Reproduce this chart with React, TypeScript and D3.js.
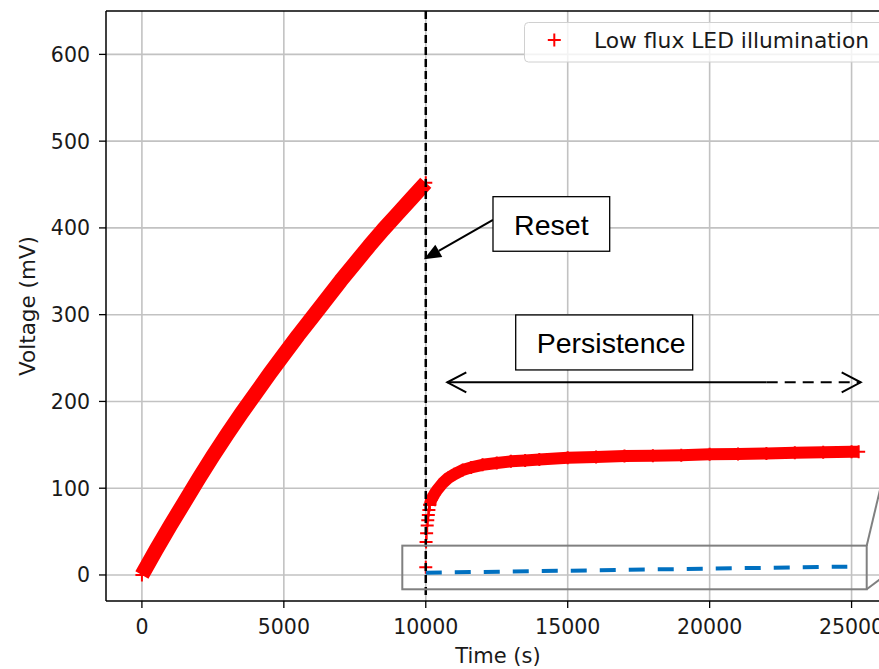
import * as d3 from "d3";

// Charging ramp before the reset (s, mV)
const rampTime = [0, 500, 1000, 1500, 2000, 2500, 3000, 3500, 4000, 4500, 5000, 5500, 6000, 6500, 7000, 7500, 8000, 8500, 9000, 9500, 10000];
const rampVolt = [0, 29, 57, 84, 111, 137, 162, 186, 209, 232, 254, 276, 297, 318, 339, 359, 379, 398, 416, 434, 452];

// Sparse points right after the reset
const resetTime = [10000, 10010, 10030, 10050, 10070, 10090, 10110, 10140];
const resetVolt = [9, 38, 48, 57, 63, 69, 75, 81];

// Persistence recovery
const recoveryTime = [10140, 10200, 10300, 10400, 10600, 10800, 11000, 11300, 11600, 12000, 12500, 13000, 13500, 14000, 15000, 16000, 17000, 18000, 19000, 20000, 21000, 22000, 23000, 24000, 25000, 25250];
const recoveryVolt = [81, 87, 93, 98, 106, 112, 116, 121, 124, 127, 129, 131, 132, 133, 135, 136, 137, 137.5, 138, 139, 139.5, 140, 141, 141.5, 142, 142];

// Dark reference (blue dashed)
const darkTime = [10000, 24850];
const darkVolt = [2.6, 9.6];

const xTicks = [0, 5000, 10000, 15000, 20000, 25000];
const yTicks = [0, 100, 200, 300, 400, 500, 600];

const W = 879;
const H = 669;
const FONT = "DejaVu Sans";
const ANNO_FONT = "Liberation Sans, Arial";

type Pt = [number, number];
const zip = (t: number[], v: number[]): Pt[] => t.map((d, i) => [d, v[i]]);

function Plus({ x, y }: { x: number; y: number }) {
  return <path d={`M${x - 6.5},${y}H${x + 6.5}M${x},${y - 6.5}V${y + 6.5}`} stroke="#ff0000" strokeWidth={2} fill="none" />;
}

export default function App() {
  const x = d3.scaleLinear().domain([-1265, 26565]).range([106, 896]);
  const y = d3.scaleLinear().domain([-30, 650]).range([601, 11]);
  const [left, right] = x.range();
  const [bottom, top] = y.range();

  const line = d3.line<Pt>().x((d) => x(d[0])).y((d) => y(d[1]));

  const ramp = zip(rampTime, rampVolt);
  const reset = zip(resetTime, resetVolt);
  const recovery = zip(recoveryTime, recoveryVolt);
  const dark = zip(darkTime, darkVolt);

  // annotation anchors in data units
  const resetBox = { t0: 12368, t1: 16479, v0: 436, v1: 373.1 };
  const resetArrow = { from: [12368, 409.2] as Pt, to: [9938, 363.9] as Pt };
  const persBox = { t0: 13168, t1: 19403, v0: 299.7, v1: 236.3 };
  const persArrow = { v: 222.1, t0: 10758, tSolid: 22010, t1: 25321 };
  const zoomBox = { t0: 9173, t1: 25533, v0: 33.8, v1: -16.5 };

  // reset arrow head
  const ax0 = x(resetArrow.from[0]), ay0 = y(resetArrow.from[1]);
  const ax1 = x(resetArrow.to[0]), ay1 = y(resetArrow.to[1]);
  const len = Math.hypot(ax1 - ax0, ay1 - ay0);
  const ux = (ax1 - ax0) / len, uy = (ay1 - ay0) / len;
  const bx = ax1 - ux * 17, by = ay1 - uy * 17;
  const head = `M${ax1},${ay1}L${bx - uy * 7},${by + ux * 7}L${bx + uy * 7},${by - ux * 7}Z`;

  const py = y(persArrow.v);
  const pl = x(persArrow.t0), ps = x(persArrow.tSolid), pr = x(persArrow.t1);

  const zx0 = x(zoomBox.t0), zx1 = x(zoomBox.t1), zy0 = y(zoomBox.v0), zy1 = y(zoomBox.v1);

  return (
    <svg width={W} height={H} style={{ position: "absolute", left: 0, top: 0, background: "#fff" }} fontFamily={FONT}>
      <defs>
        <clipPath id="plot">
          <rect x={left} y={top} width={right - left} height={bottom - top} />
        </clipPath>
      </defs>

      {/* grid */}
      <g stroke="#c2c2c2" strokeWidth={1.6}>
        {xTicks.map((t) => (
          <line key={`gx${t}`} x1={x(t)} x2={x(t)} y1={top} y2={bottom} />
        ))}
        {yTicks.map((v) => (
          <line key={`gy${v}`} x1={left} x2={right} y1={y(v)} y2={y(v)} />
        ))}
      </g>

      <g clipPath="url(#plot)">
        {/* red data */}
        <path d={line(ramp) ?? ""} stroke="#ff0000" strokeWidth={15} strokeLinejoin="round" fill="none" />
        {ramp.map((d, i) => (
          <Plus key={`r${i}`} x={x(d[0])} y={y(d[1])} />
        ))}
        <path d={line(recovery) ?? ""} stroke="#ff0000" strokeWidth={12} strokeLinejoin="round" fill="none" />
        {recovery.map((d, i) => (
          <Plus key={`c${i}`} x={x(d[0])} y={y(d[1])} />
        ))}
        {reset.map((d, i) => (
          <Plus key={`s${i}`} x={x(d[0])} y={y(d[1])} />
        ))}

        {/* dark reference */}
        <path d={line(dark) ?? ""} stroke="#0070c0" strokeWidth={4} strokeDasharray="16,13" fill="none" />

        {/* reset marker line */}
        <line x1={x(10000)} x2={x(10000)} y1={y(-23)} y2={top} stroke="#000" strokeWidth={2.5} strokeDasharray="8,4" />
      </g>

      {/* zoom indicator */}
      <rect x={zx0} y={zy0} width={zx1 - zx0} height={zy1 - zy0} fill="none" stroke="#808080" strokeWidth={2} />
      <line x1={zx1} y1={zy0} x2={zx1 + 20} y2={zy0 - 84} stroke="#808080" strokeWidth={2} />
      <line x1={zx1} y1={zy1} x2={zx1 + 20} y2={zy1 - 15} stroke="#808080" strokeWidth={2} />

      {/* Reset annotation */}
      <line x1={ax0} y1={ay0} x2={bx} y2={by} stroke="#000" strokeWidth={2} />
      <path d={head} fill="#000" />
      <rect x={x(resetBox.t0)} y={y(resetBox.v0)} width={x(resetBox.t1) - x(resetBox.t0)} height={y(resetBox.v1) - y(resetBox.v0)} fill="#fff" stroke="#000" strokeWidth={1.3} />
      <text x={(x(resetBox.t0) + x(resetBox.t1)) / 2} y={y(391.9)} textAnchor="middle" fontFamily={ANNO_FONT} fontSize={28.5} fill="#000">
        Reset
      </text>

      {/* Persistence annotation */}
      <rect x={x(persBox.t0)} y={y(persBox.v0)} width={x(persBox.t1) - x(persBox.t0)} height={y(persBox.v1) - y(persBox.v0)} fill="#fff" stroke="#000" strokeWidth={1.3} />
      <text x={x(13908)} y={y(256.2)} fontFamily={ANNO_FONT} fontSize={28.5} fill="#000">
        Persistence
      </text>
      <line x1={pl} x2={ps} y1={py} y2={py} stroke="#000" strokeWidth={2} />
      <line x1={ps} x2={pr} y1={py} y2={py} stroke="#000" strokeWidth={2} strokeDasharray="11,7" />
      <path d={`M${pl + 19},${py - 10}L${pl},${py}L${pl + 19},${py + 10}`} stroke="#000" strokeWidth={2} fill="none" />
      <path d={`M${pr - 19},${py - 10}L${pr},${py}L${pr - 19},${py + 10}`} stroke="#000" strokeWidth={2} fill="none" />

      {/* legend */}
      <rect x={524.5} y={22.5} width={400} height={39.5} rx={4} fill="#fff" fillOpacity={0.8} stroke="#d0d0d0" strokeWidth={1} />
      <Plus x={554.3} y={40} />
      <text x={594} y={47.5} fontSize={21.8} fill="#1a1a1a">
        Low flux LED illumination
      </text>

      {/* spines */}
      <g stroke="#000" strokeWidth={1.5} fill="none">
        <line x1={left} x2={left} y1={top} y2={bottom} />
        <line x1={left} x2={right} y1={bottom} y2={bottom} />
        <line x1={left} x2={right} y1={top} y2={top} />
        <line x1={right} x2={right} y1={top} y2={bottom} />
      </g>

      {/* x axis */}
      {xTicks.map((t) => (
        <g key={`xt${t}`}>
          <line x1={x(t)} x2={x(t)} y1={bottom} y2={bottom + 7} stroke="#000" strokeWidth={1.3} />
          <text x={x(t)} y={634} textAnchor="middle" fontSize={20.5} fill="#1a1a1a">
            {t}
          </text>
        </g>
      ))}
      <text x={498} y={663} textAnchor="middle" fontSize={21} fill="#1a1a1a">
        Time (s)
      </text>

      {/* y axis */}
      {yTicks.map((v) => (
        <g key={`yt${v}`}>
          <line x1={left - 7} x2={left} y1={y(v)} y2={y(v)} stroke="#000" strokeWidth={1.3} />
          <text x={90} y={y(v) + 7.5} textAnchor="end" fontSize={20.5} fill="#1a1a1a">
            {v}
          </text>
        </g>
      ))}
      <text transform={`translate(35,${(top + bottom) / 2}) rotate(-90)`} textAnchor="middle" fontSize={21.5} fill="#1a1a1a">
        Voltage (mV)
      </text>
    </svg>
  );
}
